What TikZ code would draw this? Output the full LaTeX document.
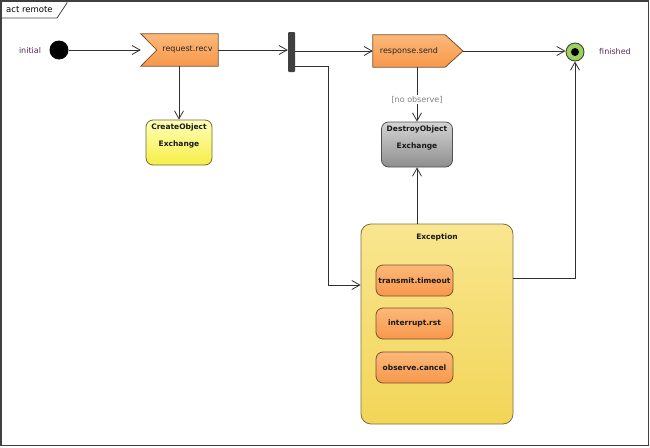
\documentclass[tikz,border=0pt]{standalone}
\usepackage{fontspec}
\setmainfont{DejaVu Sans}
\usetikzlibrary{arrows.meta,backgrounds}
\definecolor{edge}{HTML}{303030}
\definecolor{framec}{HTML}{404040}
\definecolor{purpletext}{HTML}{5A2A5A}
\definecolor{orangeT}{HTML}{FCB878}
\definecolor{orangeB}{HTML}{F7984C}
\definecolor{orangeD}{HTML}{7A5030}
\definecolor{yellowT}{HTML}{FFFFB8}
\definecolor{yellowB}{HTML}{F6EE48}
\definecolor{yellowD}{HTML}{6E6A30}
\definecolor{greyT}{HTML}{D4D4D4}
\definecolor{greyB}{HTML}{8E8E8E}
\definecolor{greyD}{HTML}{505050}
\definecolor{goldT}{HTML}{F9E690}
\definecolor{goldB}{HTML}{F2D558}
\definecolor{goldD}{HTML}{7E7040}
\definecolor{fingreen}{HTML}{9CD060}
\definecolor{finD}{HTML}{3C4A28}
\definecolor{forkc}{HTML}{404040}
\begin{document}
\begin{tikzpicture}[x=1pt,y=-1pt,
  conn/.style={draw=edge, line width=0.8pt},
  arr/.style={conn, -{Straight Barb[length=8pt,width=9pt,line width=0.8pt]}},
  lbl/.style={font=\fontsize{8}{9}\selectfont, text=purpletext, inner sep=0pt},
  evtext/.style={font=\fontsize{8}{9}\selectfont, inner sep=0pt, text=black!85},
  actbox/.style={rounded corners=7pt, line width=0.8pt, inner sep=0pt, align=center,
     font=\bfseries\fontsize{7.5}{17}\selectfont, text=black!90},
  createbox/.style={actbox, draw=yellowD, top color=yellowT, bottom color=yellowB, minimum width=66pt, minimum height=45pt, text depth=14pt},
  destroybox/.style={actbox, draw=greyD, top color=greyT, bottom color=greyB, minimum width=71pt, minimum height=45pt, text depth=14pt},
  excbox/.style={actbox, rounded corners=10pt, draw=goldD, top color=goldT, bottom color=goldB, minimum width=152pt, minimum height=200pt, text depth=174pt},
  subbox/.style={actbox, draw=orangeD, top color=orangeT, bottom color=orangeB, minimum width=77pt, minimum height=31pt},
  evshape/.style={draw=orangeD, line width=0.8pt, top color=orangeT, bottom color=orangeB},
]
\useasboundingbox (0,0) rectangle (650,447);
% frame
\draw[framec, line width=1.4pt] (1,1) rectangle (648.5,445.5);
\draw[framec, line width=0.8pt] (1,18) -- (57,18) -- (67,3) -- (67,1);
\node[anchor=west, inner sep=0pt, font=\fontsize{8.5}{10}\selectfont] (title) at (6,10) {act remote};

% nodes
\node[circle, fill=black, minimum size=19pt, inner sep=0pt] (init) at (59,50) {};
\node[lbl] (initlbl) at (30,51) {initial};

\node[evtext, minimum width=61pt, minimum height=32pt] (recv) at (187.5,50) {request.recv};
\node[createbox] (create) at (179,142.5) {CreateObject\\Exchange};

\node[fill=forkc, minimum width=7pt, minimum height=40pt, inner sep=0pt, rounded corners=1pt] (fork) at (291.5,52) {};

\node[evtext, minimum width=72pt, minimum height=32pt] (send) at (409,51) {response.send};
\coordinate (sendtip) at (463,51);
\node[destroybox] (destroy) at (417,144.5) {DestroyObject\\Exchange};

\node[circle, fill=fingreen, draw=finD, line width=0.9pt, minimum size=18pt, inner sep=0pt] (fin) at (575,52) {};
\node[circle, fill=black, minimum size=8pt, inner sep=0pt] (findot) at (fin) {};
\node[lbl] (finlbl) at (615,52) {finished};

\node[excbox] (exc) at (437,324) {Exception};
\node[subbox] (tt) at (414.5,280.5) {transmit.timeout};
\node[subbox] (ir) at (414.5,323.5) {interrupt.rst};
\node[subbox] (oc) at (414.5,367.5) {observe.cancel};

% event shapes behind their text
\begin{scope}[on background layer]
\path[evshape] ([xshift=-16pt]recv.north west) -- (recv.north east) -- (recv.south east)
   -- ([xshift=-16pt]recv.south west) -- (recv.west) -- cycle;
\path[evshape] (send.north west) -- (send.north east) -- (sendtip) -- (send.south east)
   -- (send.south west) -- cycle;
\end{scope}

% connectors
\draw[arr] (init.east) -- ([xshift=-16pt]recv.west);
\draw[arr] (create.north |- recv.south) -- (create.north);
\draw[arr] (recv.east) -- (fork.west |- recv.east);
\draw[arr] (fork.east |- send.west) -- (send.west);
\draw[arr] (sendtip) -- (fin.west |- sendtip);
\draw[arr] (destroy.north |- send.south) -- node[fill=white, inner sep=1pt, text=black!50, font=\fontsize{8}{9}\selectfont, pos=0.6] (noobs) {[no observe]} (destroy.north);
\draw[arr] (exc.north -| destroy.south) -- (destroy.south);
\draw[arr] ([yshift=-14pt]fork.east) -| ([xshift=-32pt,yshift=39pt]exc.west) -- ([yshift=39pt]exc.west);
\draw[arr] ([yshift=46pt]exc.east) -| (fin.south);
\end{tikzpicture}
\end{document}
